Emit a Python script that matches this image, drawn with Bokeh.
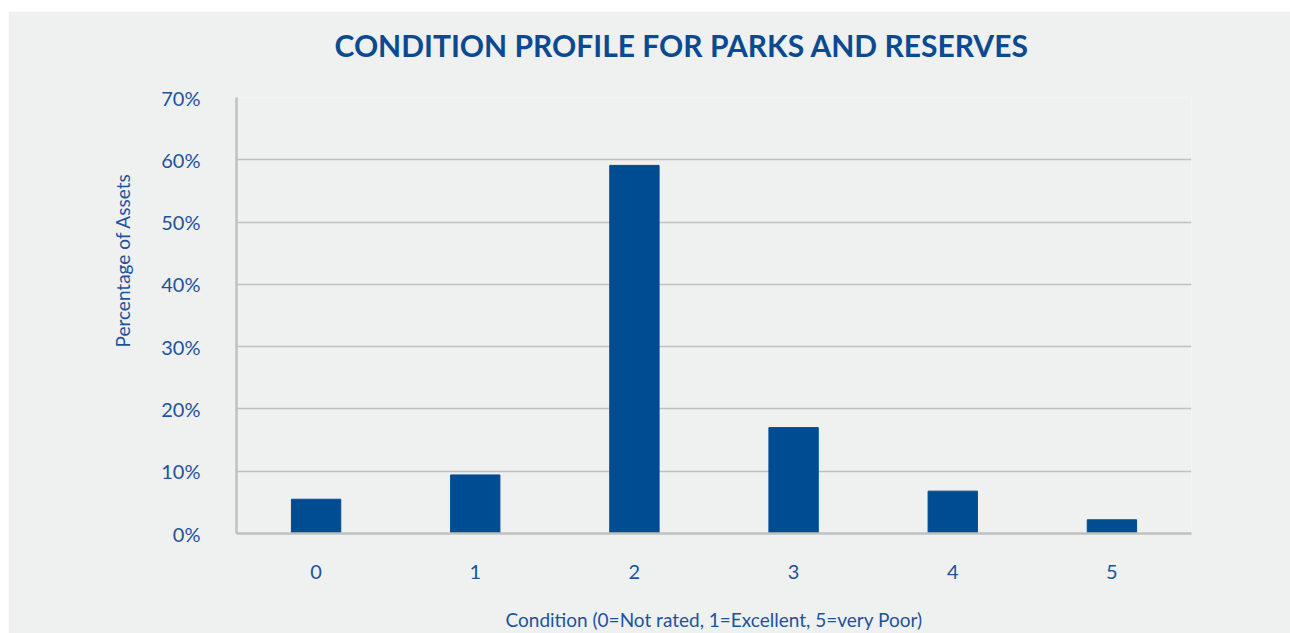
from bokeh.plotting import figure
from bokeh.models import Range1d, NumeralTickFormatter, FixedTicker, Title
from bokeh.embed import file_html
from bokeh.resources import INLINE

categories = ["0", "1", "2", "3", "4", "5"]
values = [0.055, 0.094, 0.591, 0.170, 0.068, 0.022]
y_ticks = [0, 0.1, 0.2, 0.3, 0.4, 0.5, 0.6, 0.7]

BG = "#eff0f0"
BLUE = "#004c92"
TXT = "#1c549c"
GRID = "#bfc0c0"
FONT = "Lato"

p = figure(x_range=categories, y_range=Range1d(0, 0.7), width=1282, height=622,
           output_backend="svg", toolbar_location=None,
           background_fill_color=BG, border_fill_color=BG,
           min_border_left=228, min_border_right=99, min_border_top=86, min_border_bottom=98)
p.margin = (11, 0, 0, 8)
p.outline_line_color = None

p.vbar(x=categories, top=values, width=0.31, color=BLUE)

spacer = Title(text=" ", text_font_size="1px", standoff=32)
p.add_layout(spacer, "above")
t = Title(text="CONDITION PROFILE FOR PARKS AND RESERVES", align="left", offset=98,
          text_font=FONT, text_font_size="30px", text_font_style="bold",
          text_color="#0a4a90", standoff=0)
p.add_layout(t, "above")

p.yaxis.ticker = FixedTicker(ticks=y_ticks)
p.yaxis.formatter = NumeralTickFormatter(format="0%")
p.xaxis.axis_label = "Condition (0=Not rated, 1=Excellent, 5=very Poor)"

ylab = Title(text="Percentage of Assets", align="left", offset=186,
             text_font=FONT, text_font_size="19px", text_font_style="normal",
             text_color=TXT, standoff=50)
p.add_layout(ylab, "left")

for ax in (p.xaxis, p.yaxis):
    ax.axis_line_color = GRID
    ax.axis_line_width = 2.5
    ax.major_tick_line_color = None
    ax.minor_tick_line_color = None
    ax.major_label_text_font = FONT
    ax.major_label_text_color = TXT
    ax.major_label_text_font_size = "20px"
    ax.axis_label_text_font = FONT
    ax.axis_label_text_color = TXT
    ax.axis_label_text_font_style = "normal"

p.yaxis.major_label_standoff = 30
p.xaxis.major_label_standoff = 25
p.xaxis.axis_label_text_font_size = "19px"
p.xaxis.axis_label_standoff = 26

p.xgrid.grid_line_color = None
p.ygrid.grid_line_color = GRID
p.ygrid.grid_line_width = 1.5
p.ygrid.ticker = FixedTicker(ticks=y_ticks)

open("out.html", "w").write(file_html(p, INLINE))
